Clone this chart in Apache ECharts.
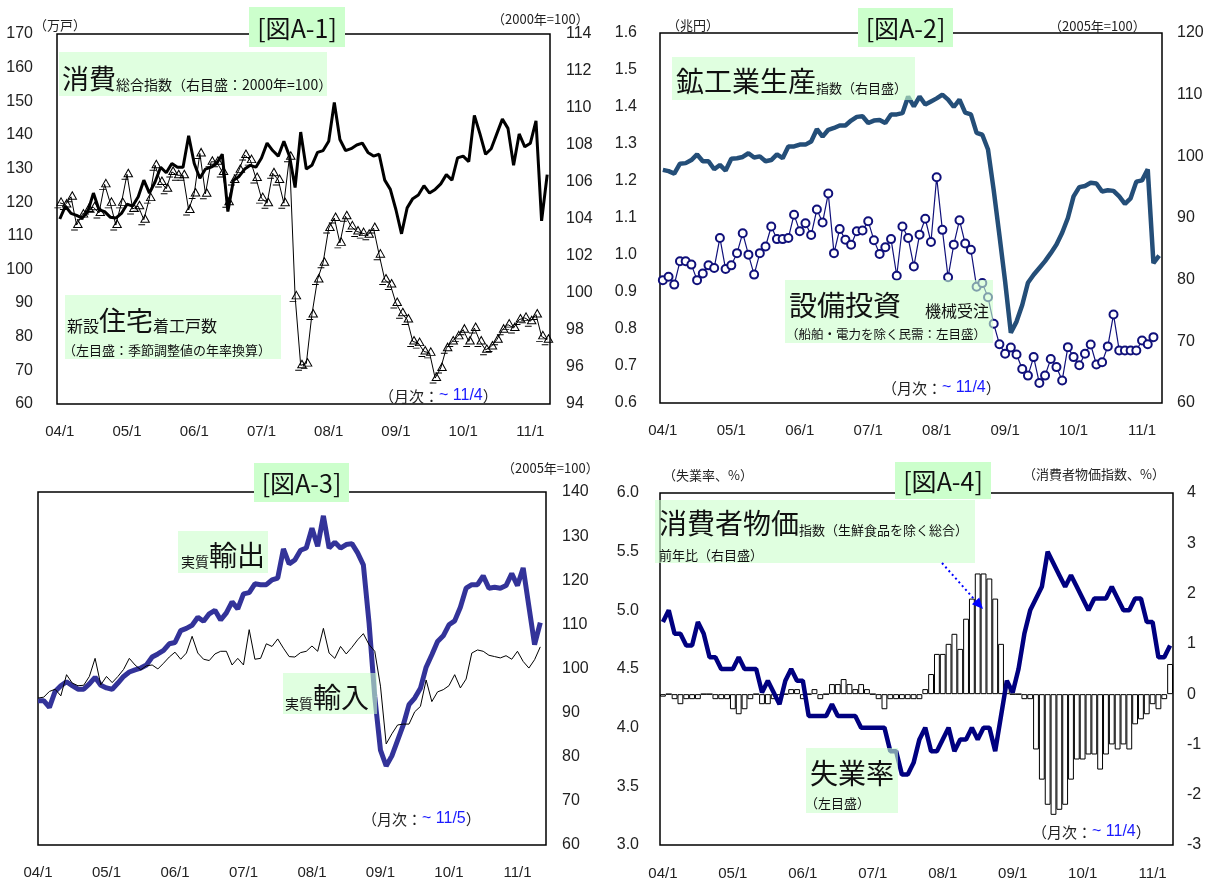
<!DOCTYPE html>
<html lang="ja">
<head>
<meta charset="UTF-8">
<title>図A-1〜A-4</title>
<script src="https://cdn.jsdelivr.net/npm/echarts/dist/echarts.min.js"></script>
<style>
  html, body { margin: 0; padding: 0; background: #fff; }
  #main { width: 1212px; height: 880px; }
</style>
</head>
<body>
<div id="main"></div>
<script>
// 月次の区切り (04/1 〜)
var years = ['04', '05', '06', '07', '08', '09', '10', '11'];

// [図A-1] 新設住宅着工戸数 (万戸, 左目盛)
var housing = [119.8, 119.3, 121.6, 113.2, 116.3, 118, 118.5, 116.8, 125.3, 119.8, 113.2, 119.8,
  128.3, 118, 118.8, 114.8, 121.2, 131, 126, 124, 129, 128, 128, 117.7,
  122.6, 134.5, 122.5, 132, 132, 129, 120, 126.6, 129.6, 134, 132.5, 127.2,
  121.2, 119.7, 128.6, 126.6, 119.7, 133.5, 92, 71.5, 72, 86.6, 97, 102,
  112.3, 115.3, 107.9, 115.8, 112.8, 111.3, 110.8, 110.3, 112.3, 104.4, 97, 95.5,
  90, 87, 85.1, 78.6, 78.1, 75.6, 75.2, 67.7, 70.7, 76.6, 78.6, 80.1,
  82.1, 78.6, 82.6, 78.6, 76.1, 77.1, 79.1, 82.1, 83.6, 82.6, 85.1, 85.6,
  84.6, 86.6, 80.1, 79.1];
// [図A-1] 消費総合指数 (2000年=100, 右目盛)
var consumption = [104.0, 104.7, 104.3, 104.2, 104.05, 104.4, 105.4, 104.5, 104.4, 104.1, 104.05, 104.3,
  104.8, 104.7, 105.2, 106.1, 105.4, 106.0, 106.8, 106.5, 107.0, 106.8, 106.8, 108.5,
  107.0, 106.2, 106.7, 106.8, 107.0, 107.5, 104.4, 106.1, 106.3, 106.7, 106.9, 106.8,
  107.3, 108.1, 107.7, 107.4, 108.2, 107.4, 105.7, 108.7, 106.7, 106.9, 107.6, 107.7,
  108.2, 110.3, 108.3, 107.7, 107.8, 108.0, 108.1, 107.6, 107.4, 107.5, 106.1, 105.6,
  104.5, 103.2, 104.6, 105.1, 105.3, 105.8, 105.4, 105.6, 105.9, 106.4, 106.1, 107.3,
  107.4, 107.1, 109.6, 108.6, 107.5, 107.8, 108.6, 109.4, 108.9, 106.9, 108.6, 107.9,
  108.1, 109.3, 103.9, 106.4];

// [図A-2] 鉱工業生産指数 (2005年=100, 右目盛)
var production = [97.8, 97.6, 97.2, 98.8, 98.9, 99.4, 100.3, 99.2, 99.2, 97.9, 98.6, 97.7,
  99.6, 99.7, 99.9, 100.5, 99.8, 100.0, 99.2, 99.4, 100.3, 99.7, 101.6, 101.6,
  101.9, 101.9, 102.4, 104.4, 103.2, 104.3, 104.6, 105.0, 105.0, 105.8, 106.4, 106.5,
  105.4, 105.8, 105.9, 105.4, 106.8, 106.8, 107.0, 109.7, 108.1, 109.7, 108.4, 108.9,
  109.4, 110.0, 109.2, 108.0, 109.2, 107.1, 106.8, 103.8, 103.5, 101.1, 94.5, 87.2,
  79.7, 71.4, 73.2, 75.9, 79.5, 80.8, 81.9, 83.0, 84.3, 85.7, 87.6, 90.0,
  93.5, 95.0, 95.2, 95.7, 95.6, 94.3, 94.5, 94.4, 93.5, 92.3, 93.2, 95.9,
  96.1, 97.9, 82.7, 83.9];
// [図A-2] 機械受注 (兆円, 左目盛, 〜11/3)
var orders = [0.932, 0.941, 0.920, 0.983, 0.983, 0.974, 0.932, 0.950, 0.972, 0.965, 1.046, 0.962,
  0.972, 1.005, 1.059, 1.001, 0.947, 1.005, 1.023, 1.077, 1.043, 1.043, 1.046, 1.109,
  1.064, 1.086, 1.054, 1.123, 1.088, 1.166, 1.005, 1.070, 1.041, 1.028, 1.064, 1.066,
  1.091, 1.040, 1.003, 1.021, 1.043, 0.944, 1.077, 1.046, 0.969, 1.055, 1.098, 1.035,
  1.210, 1.068, 0.940, 1.028, 1.094, 1.031, 1.014, 0.914, 0.924, 0.886, 0.814, 0.759,
  0.733, 0.750, 0.731, 0.692, 0.674, 0.724, 0.654, 0.674, 0.719, 0.697, 0.661, 0.751,
  0.724, 0.702, 0.733, 0.758, 0.704, 0.710, 0.753, 0.839, 0.742, 0.742, 0.742, 0.742,
  0.769, 0.759, 0.778];

// [図A-3] 実質輸出・実質輸入 (2005年=100, 〜11/5)
var exportsReal = [92.7, 92.7, 91.2, 94.8, 96.1, 97.0, 96.1, 95.3, 95.3, 96.5, 98.0, 96.2,
  95.6, 95.3, 96.7, 98.2, 99.2, 99.7, 100.1, 100.8, 102.6, 103.3, 104.1, 105.6,
  105.9, 108.6, 109.1, 109.8, 111.6, 110.7, 112.4, 113.2, 111.0, 112.6, 115.1, 113.5,
  116.9, 117.2, 119.2, 119.0, 119.0, 120.1, 120.5, 127.1, 123.7, 124.6, 126.8, 127.3,
  131.8, 127.7, 134.6, 127.3, 128.6, 127.3, 128.1, 128.3, 126.2, 123.5, 110.3, 93.6,
  81.5, 77.9, 80.2, 83.7, 87.2, 91.8, 93.3, 95.5, 100.3, 103.1, 106.1, 107.4,
  109.9, 110.8, 113.9, 118.2, 119.0, 119.0, 121.0, 118.2, 118.4, 118.2, 118.8, 121.5,
  118.8, 122.8, 114.1, 105.4, 110.4];
var importsReal = [93.3, 93.5, 94.8, 95.3, 93.8, 98.6, 96.7, 96.1, 96.2, 98.2, 102.3, 96.3,
  98.2, 96.8, 98.2, 99.8, 102.3, 100.8, 99.7, 100.6, 100.8, 99.9, 101.2, 102.6,
  103.7, 102.1, 103.5, 107.3, 103.5, 102.1, 101.8, 103.3, 103.9, 103.9, 100.8, 102.3,
  100.8, 108.8, 102.1, 102.3, 105.6, 105.0, 106.7, 104.6, 102.7, 102.6, 103.6, 103.9,
  105.1, 103.9, 109.1, 103.5, 102.3, 105.0, 103.3, 104.8, 106.5, 107.9, 105.4, 103.9,
  96.0, 82.9, 85.2, 87.2, 87.4, 87.4, 90.2, 91.4, 97.4, 92.5, 94.7, 95.2,
  96.1, 98.6, 95.6, 97.6, 103.5, 104.2, 103.9, 103.0, 102.7, 102.4, 102.9, 102.1,
  103.9, 101.6, 100.1, 102.0, 104.9];

// [図A-4] 失業率 (%, 左目盛)
var unemployment = [4.9, 5.0, 4.8, 4.8, 4.7, 4.7, 4.9, 4.8, 4.6, 4.6, 4.5, 4.5,
  4.5, 4.6, 4.5, 4.5, 4.5, 4.3, 4.4, 4.3, 4.2, 4.4, 4.5, 4.4,
  4.4, 4.1, 4.1, 4.1, 4.1, 4.2, 4.1, 4.1, 4.1, 4.1, 4.0, 4.0,
  4.0, 4.0, 4.0, 3.8, 3.8, 3.6, 3.6, 3.7, 3.9, 4.0, 3.8, 3.8,
  3.9, 4.0, 3.8, 3.9, 3.9, 4.0, 3.9, 4.0, 4.0, 3.8, 4.1, 4.4,
  4.3, 4.5, 4.8, 5.0, 5.1, 5.2, 5.5, 5.4, 5.3, 5.2, 5.3, 5.2,
  5.1, 5.0, 5.1, 5.1, 5.1, 5.2, 5.1, 5.0, 5.0, 5.1, 5.1, 4.9,
  4.9, 4.6, 4.6, 4.7];
// [図A-4] 消費者物価指数 (生鮮食品を除く総合) 前年比 (%, 右目盛)
var cpi = [-0.05, 0, -0.1, -0.2, -0.1, -0.1, -0.1, 0, 0, -0.1, -0.1, -0.1,
  -0.3, -0.4, -0.3, -0.1, 0, -0.2, -0.2, -0.1, -0.1, 0, 0.1, 0.1,
  -0.1, 0, 0.1, -0.1, 0, 0.2, 0.2, 0.3, 0.2, 0.1, 0.2, 0.1,
  0, -0.1, -0.3, -0.1, -0.1, -0.1, -0.1, -0.1, -0.1, 0.1, 0.4, 0.8,
  0.8, 1.0, 1.2, 0.9, 1.5, 1.9, 2.4, 2.4, 2.3, 1.9, 1.0, 0.2,
  0, 0, -0.1, -0.1, -1.1, -1.7, -2.2, -2.4, -2.3, -2.2, -1.7, -1.3,
  -1.3, -1.2, -1.2, -1.5, -1.2, -1.0, -1.1, -1.0, -1.1, -0.6, -0.5, -0.4,
  -0.2, -0.3, -0.1, 0.6];

var JP = "'Noto Sans CJK JP', 'Noto Sans', sans-serif";
var NUM = "'Liberation Sans', Arial, sans-serif";

function monthList(n) {
  var out = [];
  for (var k = 0; k < n; k++) {
    out.push(years[Math.floor(k / 12)] + '/' + (k % 12 + 1));
  }
  return out;
}

function xAx(g, cats, gap, margin) {
  return {
    type: 'category', gridIndex: g, data: cats, boundaryGap: gap,
    axisLine: { show: false, onZero: false }, axisTick: { show: false },
    splitLine: { show: false },
    axisLabel: { interval: 11, margin: margin, fontFamily: NUM, fontSize: 15, color: '#222' }
  };
}

function yAx(g, pos, min, max, step, margin, fmt, show) {
  return {
    type: 'value', gridIndex: g, position: pos, min: min, max: max, interval: step,
    show: show !== false,
    axisLine: { show: false }, axisTick: { show: false }, splitLine: { show: false },
    axisLabel: { margin: margin, fontFamily: NUM, fontSize: 16, color: '#222', formatter: fmt }
  };
}

function grid(l, t, w, h) {
  return { left: l, top: t, width: w, height: h, show: true, borderColor: '#000',
    borderWidth: 1.5, backgroundColor: 'rgba(0,0,0,0)', containLabel: false, outerBoundsMode: 'none' };
}

var annot = 'rgba(204,255,204,0.6)';
var titleBg = '#ccffcc';
// zrender の rich は fill で色を指定
var rich = {
  b: { fontSize: 28, lineHeight: 32, fontFamily: JP, verticalAlign: 'bottom', fill: '#111' },
  b27: { fontSize: 27, lineHeight: 32, fontFamily: JP, verticalAlign: 'bottom', fill: '#111' },
  m: { fontSize: 16, lineHeight: 22, fontFamily: JP, verticalAlign: 'bottom', fill: '#111' },
  s14: { fontSize: 14, lineHeight: 20, fontFamily: JP, verticalAlign: 'bottom', fill: '#111' },
  s13: { fontSize: 13, lineHeight: 18, fontFamily: JP, verticalAlign: 'bottom', fill: '#111' },
  s12: { fontSize: 12.5, lineHeight: 18, fontFamily: JP, verticalAlign: 'bottom', fill: '#111' },
  k: { fontSize: 15, fontFamily: JP, fill: '#222' },
  u: { fontSize: 16, fontFamily: NUM, fill: '#1a1aff' }
};

function rect(x, y, w, h, fill) {
  return { type: 'rect', z: 100, shape: { x: x, y: y, width: w, height: h }, style: { fill: fill } };
}
function txt(x, y, text, extra) {
  var st = { text: text, rich: rich, fill: '#111', fontFamily: JP, align: 'left', verticalAlign: 'bottom' };
  for (var k in extra || {}) st[k] = extra[k];
  return { type: 'text', z: 101, x: x, y: y, style: st };
}
function title(x, y, w, h, text) {
  return [rect(x, y, w, h, titleBg),
    txt(x + w / 2, y + h / 2 + 1, text, { fontSize: 25, align: 'center', verticalAlign: 'middle' })];
}
function note(x, y, text, size) {
  return txt(x, y, text, { fontSize: size, fill: '#222', verticalAlign: 'middle' });
}

var graphics = [].concat(
  title(249, 7, 96, 40, '[図A-1]'),
  [rect(59, 52, 268, 44, annot),
   txt(62, 92, '{b27|消費}{s14|総合指数（右目盛：2000年=100）}'),
   rect(65, 295, 216, 64, annot),
   txt(67, 334, '{m|新設}{b27|住宅}{m|着工戸数}'),
   txt(63, 357, '{s13|（左目盛：季節調整値の年率換算）}'),
   note(34, 25, '（万戸）', 13),
   note(492, 19, '（2000年=100）', 13),
   note(379, 396, '{k|（月次：}{u|~ 11/4}{k|）}', 15)],
  title(858, 8, 95, 39, '[図A-2]'),
  [rect(672, 57, 243, 43, annot),
   txt(676, 95, '{b|鉱工業生産}{s13|指数（右目盛）}'),
   rect(785, 280, 208, 63, annot),
   txt(789, 319, '{b|設備投資}'),
   txt(925, 319, '{m|機械受注}'),
   txt(786, 341, '{s12|（船舶・電力を除く民需：左目盛）}'),
   note(667, 25, '（兆円）', 13),
   note(1049, 26, '（2005年=100）', 13),
   note(882, 388, '{k|（月次：}{u|~ 11/4}{k|）}', 15)],
  title(254, 463, 95, 39, '[図A-3]'),
  [rect(178, 531, 90, 42, annot),
   txt(181, 569, '{s14|実質}{b|輸出}'),
   rect(283, 673, 94, 41, annot),
   txt(285, 711, '{s14|実質}{b|輸入}'),
   note(502, 468, '（2005年=100）', 13),
   note(362, 819, '{k|（月次：}{u|~ 11/5}{k|）}', 15)],
  title(895, 462, 96, 37, '[図A-4]'),
  [rect(655, 500, 320, 63, annot),
   txt(659, 537, '{b|消費者物価}{s13|指数（生鮮食品を除く総合）}'),
   txt(659, 562, '{s13|前年比（右目盛）}'),
   rect(806, 748, 92, 65, annot),
   txt(810, 787, '{b|失業率}'),
   txt(805, 810, '{s13|（左目盛）}'),
   note(663, 475, '（失業率、%）', 13),
   note(1023, 474, '（消費者物価指数、%）', 13),
   note(1032, 832, '{k|（月次：}{u|~ 11/4}{k|）}', 15),
   { type: 'line', z: 105, shape: { x1: 942, y1: 563, x2: 975.6, y2: 600.8 },
     style: { stroke: '#0000ff', lineWidth: 2, lineDash: [2, 3] } },
   { type: 'polygon', z: 105, shape: { points: [[983, 609], [971.9, 604.2], [979.3, 597.4]] },
     style: { fill: '#0000ff' } }]
);

var months88 = monthList(88);
var months90 = monthList(89).concat(['']);

var chart = echarts.init(document.getElementById('main'), null, { renderer: 'canvas' });
chart.setOption({
  animation: false,
  backgroundColor: '#fff',
  grid: [
    grid(57, 34, 493, 370),
    grid(660, 33, 502, 370),
    grid(38, 492, 508, 353),
    grid(660, 493, 513, 352)
  ],
  xAxis: [
    xAx(0, months88, true, 20),
    xAx(1, months88, true, 20),
    xAx(2, months90, false, 20),
    xAx(3, months88, true, 21)
  ],
  yAxis: [
    yAx(0, 'left', 60, 170, 10, 24),
    yAx(0, 'right', 94, 114, 2, 16),
    yAx(1, 'left', 0.6, 1.6, 0.1, 23, function (v) { return v.toFixed(1); }),
    yAx(1, 'right', 60, 120, 10, 15),
    yAx(2, 'left', 60, 140, 10, 0, null, false),
    yAx(2, 'right', 60, 140, 10, 16),
    yAx(3, 'left', 3, 6, 0.5, 21, function (v) { return v.toFixed(1); }),
    yAx(3, 'right', -3, 4, 1, 14)
  ],
  series: [
    {
      name: '新設住宅着工戸数', type: 'line', xAxisIndex: 0, yAxisIndex: 0, data: housing,
      showAllSymbol: true,
      symbol: 'path://M8,0 L13,9 L3,9 Z M0,12 L8,12', symbolSize: [11, 10],
      lineStyle: { color: '#000', width: 1 },
      itemStyle: { color: 'rgba(255,255,255,0)', borderColor: '#000', borderWidth: 1 }, z: 3
    },
    {
      name: '消費総合指数', type: 'line', xAxisIndex: 0, yAxisIndex: 1, data: consumption,
      symbol: 'none', lineStyle: { color: '#000', width: 3 }, z: 4
    },
    {
      name: '鉱工業生産指数', type: 'line', xAxisIndex: 1, yAxisIndex: 3, data: production,
      symbol: 'none', lineStyle: { color: '#244e78', width: 4.5 }, z: 3
    },
    {
      name: '機械受注', type: 'line', xAxisIndex: 1, yAxisIndex: 2, data: orders,
      showAllSymbol: true,
      symbol: 'emptyCircle', symbolSize: 8,
      lineStyle: { color: '#10107a', width: 1.2 },
      itemStyle: { color: '#10107a', borderWidth: 1.3 }, z: 4
    },
    {
      name: '実質輸出', type: 'line', xAxisIndex: 2, yAxisIndex: 5, data: exportsReal,
      symbol: 'none', lineStyle: { color: '#333399', width: 5 }, z: 3
    },
    {
      name: '実質輸入', type: 'line', xAxisIndex: 2, yAxisIndex: 5, data: importsReal,
      symbol: 'none', lineStyle: { color: '#000', width: 1 }, z: 4
    },
    {
      name: '消費者物価指数', type: 'bar', xAxisIndex: 3, yAxisIndex: 7, data: cpi,
      barCategoryGap: '0%',
      itemStyle: { color: '#fff', borderColor: '#000', borderWidth: 1 }, z: 2
    },
    {
      name: '失業率', type: 'line', xAxisIndex: 3, yAxisIndex: 6, data: unemployment,
      symbol: 'none', lineStyle: { color: '#000080', width: 4.5 }, z: 5
    }
  ],
  graphic: graphics
});
</script>
</body>
</html>
